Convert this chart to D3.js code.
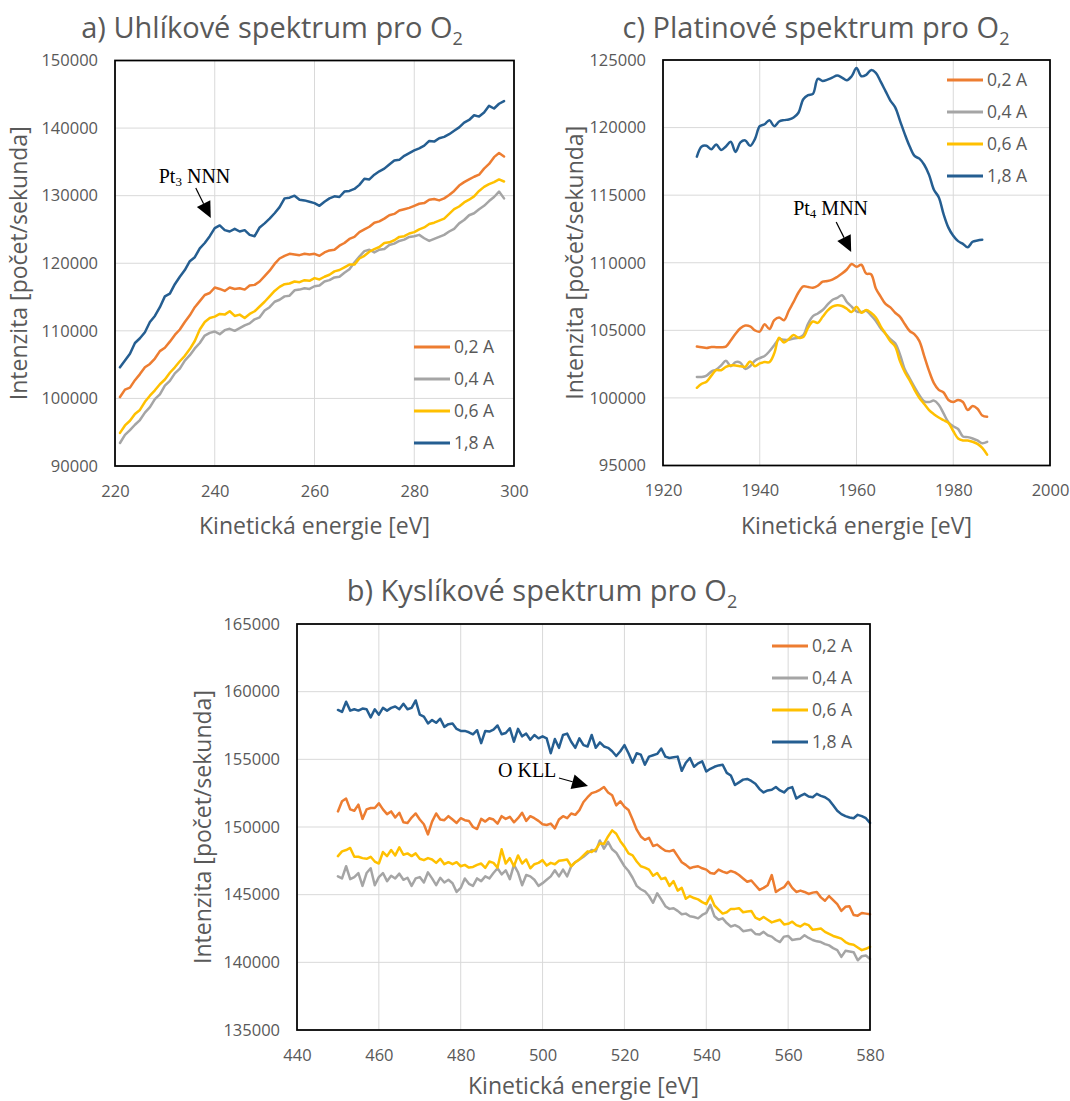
<!DOCTYPE html>
<html>
<head>
  <meta charset="utf-8">
  <title>Spektra pro O2</title>
  <style>
  body { margin: 0; background: #fff; }
  svg text { font-family: "Open Sans", sans-serif; fill: #595959; }
  svg text.annot { font-family: "Liberation Serif", "Times New Roman", serif; fill: #000; }
  </style>
</head>
<body>
<script src="https://cdnjs.cloudflare.com/ajax/libs/d3/7.8.5/d3.min.js"></script>
<script>
// legend entries, same in all three panels
var seriesNames = ["0,2 A", "0,4 A", "0,6 A", "1,8 A"];
var seriesColors = ["#ed7d31", "#a5a5a5", "#ffc000", "#255e91"];

// a) carbon spectrum, 221..298 eV, 1 eV step
var carbonStart = 221;
var carbonTicksX = [220, 240, 260, 280, 300];
var carbonTicksY = [90000, 100000, 110000, 120000, 130000, 140000, 150000];
var carbon02 = [100200,101300,101600,102700,103600,104600,105100,105900,107000,107500,
  108400,109400,110200,111300,112300,113500,114400,115300,115600,116400,
  116200,115900,116400,116200,116300,116100,116700,116800,117300,118100,
  118900,119900,120700,121100,121400,121300,121200,121400,121300,121400,
  121100,121600,121900,122000,122600,123000,123600,123900,124600,125000,
  125400,126000,126200,126600,127100,127300,127800,128000,128200,128500,
  128800,128900,129400,129500,129300,129600,130100,130700,131500,132000,
  132400,132800,133100,134000,134700,135700,136300,135800];
var carbon04 = [93400,94600,95300,96100,96800,97900,98700,99900,100600,101900,
  102600,103700,104400,105600,106400,107400,108200,109300,109700,109900,
  109500,110100,110300,110000,110400,110800,111100,111700,112000,113000,
  113500,114300,114600,115100,115200,116000,116100,116300,116200,116600,
  116700,117300,117500,117900,118000,118600,119100,120100,121000,121800,
  122000,121600,122000,122100,122700,122900,123300,123500,123900,124000,
  124200,123700,123300,123600,123900,124200,124700,125100,125900,126400,
  127100,127400,128000,128500,129200,129800,130600,129600];
var carbon06 = [94900,96000,96700,97700,98300,99500,100400,101200,102100,102800,
  103800,104600,105500,106300,107300,108500,110200,111300,111900,112100,
  112500,112400,112900,112200,112400,111900,112500,112900,113600,114300,
  115100,115900,116500,116900,117000,117300,117200,117500,117400,117800,
  117600,118000,118300,118800,119000,119400,119800,119800,120700,121100,
  121700,122100,122400,123000,123100,123400,123900,124000,124400,124600,
  125000,125300,125800,126000,126300,126600,127300,128000,128400,129000,
  129400,129900,130700,131300,131700,132000,132400,132100];
var carbon18 = [104600,105600,106600,108200,108900,109800,111300,112200,113500,115100,
  115500,116900,118000,119000,120300,120900,122200,123000,124000,125200,
  125600,124900,124700,125100,124700,124900,124200,124000,125300,125900,
  126600,127400,128300,129600,129700,130000,129400,129300,129100,128900,
  128500,129100,129600,129900,129800,130600,130700,131000,131600,132500,
  132400,133100,133600,134000,134600,135200,135300,135900,136300,136700,
  137000,137400,138100,138000,138500,138700,139100,139600,140100,140800,
  141200,141900,141700,142300,143300,142900,143600,144000];

// b) oxygen spectrum, 450..580 eV, 1 eV step
var oxygenStart = 450;
var oxygenTicksX = [440, 460, 480, 500, 520, 540, 560, 580];
var oxygenTicksY = [135000, 140000, 145000, 150000, 155000, 160000, 165000];
var oxygen02 = [151150,151900,152100,151300,151200,151650,150600,151300,151400,151400,
  151750,151300,150950,151150,150700,151050,150350,150300,150700,151000,
  150550,150200,149450,150400,151000,150550,150500,150800,150550,150300,
  150650,150500,150450,150000,149850,150600,150400,150650,150550,150250,
  150800,150600,150750,150350,150650,151050,150450,150800,150650,150450,
  150200,150150,150250,149900,150550,150800,150650,151000,150900,151250,
  151850,152200,152500,152600,152750,152950,152550,152350,151600,151900,
  151500,151250,150550,149800,149300,149050,149200,148600,148700,148450,
  148250,148200,148300,147850,147400,147200,146950,147050,147100,146950,
  146850,146600,146550,146850,146700,146600,146750,146650,146450,146200,
  145950,146050,145700,145350,145500,145700,146450,145200,145400,145550,
  145950,145500,145200,145300,145200,145050,145150,145200,144800,144550,
  144900,144600,144300,143800,144100,144150,143500,143450,143650,143600,
  143550];
var oxygen04 = [146350,146200,147100,146150,146300,146600,145650,146600,146950,145700,
  146300,146600,146000,146400,146200,146550,146100,146250,145650,146200,
  146300,145900,146650,146200,145700,146250,145900,146100,145850,145200,
  145500,146200,145800,145650,146200,146000,146350,146200,146600,146950,
  146500,146800,146150,147200,146650,145700,146450,146350,146100,145650,
  145850,146100,146350,146800,146350,146850,146350,147100,147400,147600,
  147800,148050,148300,148200,149000,148400,148900,148350,148100,147600,
  147100,146750,146250,145650,145400,145250,144900,144400,145100,144650,
  144150,143950,144000,143800,143550,143600,143400,143350,143250,143500,
  143650,144250,143400,143150,143250,142900,142650,142750,142600,142300,
  142350,142400,142100,142050,142250,142000,141900,141650,141500,141900,
  141950,141650,141700,141750,142000,141800,141650,141550,141500,141350,
  141250,141050,140900,140400,140850,140800,140750,140150,140450,140500,
  140250];
var oxygen06 = [147850,148200,148300,148450,147800,147800,147700,147650,147800,147450,
  147300,148150,147850,148300,147900,148500,147950,148050,147850,148050,
  147650,147550,147700,147600,147350,147650,147250,147400,147250,147400,
  147100,147200,147000,147050,147200,147300,146980,147450,147350,147000,
  148350,147300,147700,147100,147900,147300,147600,146950,147250,147350,
  147550,147150,147350,147250,147500,147550,147600,147100,147400,147600,
  147900,148200,148150,148350,148800,148750,149300,149750,149500,148950,
  148550,148050,147900,147450,147100,147000,146850,146400,146600,146150,
  146250,145650,146000,145300,145500,144700,144900,144750,144650,144450,
  144300,144900,144200,143900,143600,143700,143950,143950,144000,143700,
  143750,143800,143300,143150,143350,143150,142950,143050,143150,142800,
  142850,143000,142750,142650,142850,142750,142400,142450,142500,142250,
  142100,141950,141850,141750,141500,141350,141300,141100,140900,141000,
  141150];
var oxygen18 = [158650,158500,159260,158600,158700,158600,158750,158700,158100,158700,
  158300,158800,158600,158800,158900,158700,159100,158700,158800,159350,
  158300,158150,157650,157900,157700,158000,157400,157600,157650,157250,
  157100,157100,157000,156850,157150,156200,157100,157050,157200,157500,
  156850,156950,157300,156300,157250,156700,156900,156450,156800,156550,
  156700,156550,155450,156500,155850,156800,156900,156300,155850,156550,
  156050,155950,156800,155850,156250,155950,155850,155600,155250,155600,
  156050,155450,154750,155450,155350,154600,155200,155300,155400,155800,
  155200,155100,155150,155200,154150,154750,155100,154450,154700,154850,
  154100,154300,154450,154550,154600,154000,153800,153100,153300,153500,
  153550,153400,153200,152800,152550,152700,152750,152950,152700,152550,
  152850,152950,152100,152300,152450,152250,152200,152450,152300,152200,
  152000,151600,151200,150950,150800,150700,150650,150900,150800,150650,
  150300];

// c) platinum spectrum, 1927..1987 eV, 1 eV step (1,8 A ends at 1986)
var platinumStart = 1927;
var platinumTicksX = [1920, 1940, 1960, 1980, 2000];
var platinumTicksY = [95000, 100000, 105000, 110000, 115000, 120000, 125000];
var platinum02 = [103800,103750,103700,103770,103750,103750,103800,104250,104750,105150,
  105350,105300,105000,104900,105450,105100,105750,105950,105750,106450,
  107100,107800,108250,108200,108150,108300,108600,108650,108750,108950,
  109200,109500,109900,109700,109850,109200,109150,108100,107500,106950,
  106700,106300,106000,105450,104950,104700,104200,103100,102000,101100,
  100600,100400,99850,99700,99850,99700,99100,99400,99200,98700,
  98600];
var platinum04 = [101550,101550,101650,101950,102100,102400,102750,102350,102650,102600,
  102150,102350,102750,102950,103100,103450,103900,104350,104300,104300,
  104400,104450,104650,105500,106050,106250,106500,106900,107250,107400,
  107600,107100,106750,106400,106350,106450,106100,105700,105150,104750,
  104350,104050,103200,102100,101450,100800,100200,99750,99700,99800,
  99500,98850,98200,97900,97700,97150,97100,97000,96850,96650,
  96750];
var platinum06 = [100750,101050,101200,101650,102050,102050,102300,102400,102400,102350,
  102300,102700,102350,102550,102650,102650,103300,104450,104100,104350,
  104650,104450,104500,105200,105650,105550,106000,106450,106750,106850,
  106800,106600,106350,106750,106300,106500,106300,105950,105300,104750,
  104200,103800,102700,101900,101300,100600,100000,99550,99100,98800,
  98550,98350,98150,97550,97000,96850,96850,96750,96600,96300,
  95800];
var platinum18 = [117850,118600,118650,118400,118750,118350,118600,118950,118200,118900,
  119050,118650,119150,120100,120250,120550,120100,120450,120550,120600,
  120750,121100,122100,122400,122500,123600,123450,123550,123700,123850,
  123700,123500,123800,124400,123800,123900,124250,124050,123400,122700,
  122000,121500,120500,119500,118600,117900,117700,117250,116500,115400,
  114850,113600,112600,112000,111600,111400,111150,111550,111650,111700];

var svg = d3.select("body").append("svg")
    .attr("width", 1070)
    .attr("height", 1101);

// one panel = plot frame + grid + lines + labels
function drawPanel(p) {
  var x = d3.scaleLinear().domain([p.xTicks[0], p.xTicks[p.xTicks.length - 1]]).range([p.left, p.right]);
  var y = d3.scaleLinear().domain([p.yTicks[0], p.yTicks[p.yTicks.length - 1]]).range([p.bottom, p.top]);
  var g = svg.append("g");

  // gridlines
  g.append("g").selectAll("line")
      .data(p.xTicks)
    .enter().append("line")
      .attr("x1", function(d) { return x(d); })
      .attr("x2", function(d) { return x(d); })
      .attr("y1", p.top)
      .attr("y2", p.bottom)
      .attr("stroke", "#d9d9d9");
  g.append("g").selectAll("line")
      .data(p.yTicks)
    .enter().append("line")
      .attr("x1", p.left)
      .attr("x2", p.right)
      .attr("y1", function(d) { return y(d); })
      .attr("y2", function(d) { return y(d); })
      .attr("stroke", "#d9d9d9");

  // spectra
  var line = d3.line()
      .x(function(d, i) { return x(p.start + i); })
      .y(function(d) { return y(d); })
      .curve(p.curve);
  g.append("g").selectAll("path")
      .data(p.series)
    .enter().append("path")
      .attr("d", line)
      .attr("fill", "none")
      .attr("stroke", function(d, i) { return seriesColors[i]; })
      .attr("stroke-width", 2.5)
      .attr("stroke-linejoin", "round")
      .attr("stroke-linecap", "round");

  // plot frame
  g.append("rect")
      .attr("x", p.left)
      .attr("y", p.top)
      .attr("width", p.right - p.left)
      .attr("height", p.bottom - p.top)
      .attr("fill", "none")
      .attr("stroke", "#000")
      .attr("stroke-width", 1.75);

  // axes (labels only)
  var ay = g.append("g")
      .attr("transform", "translate(" + (p.left - 17) + ",0)")
      .call(d3.axisLeft(y).tickValues(p.yTicks).tickSize(0).tickPadding(0).tickFormat(d3.format("d")));
  ay.select(".domain").remove();
  ay.attr("font-size", 16.5);

  var ax = g.append("g")
      .attr("transform", "translate(0," + (p.bottom + 19) + ")")
      .call(d3.axisBottom(x).tickValues(p.xTicks).tickSize(0).tickPadding(0).tickFormat(d3.format("d")));
  ax.select(".domain").remove();
  ax.attr("font-size", 16.5);

  // axis titles
  g.append("text")
      .attr("x", (p.left + p.right) / 2)
      .attr("y", p.xTitleY)
      .attr("text-anchor", "middle")
      .attr("font-size", 23)
      .text("Kinetická energie [eV]");
  g.append("text")
      .attr("transform", "translate(" + p.yTitleX + "," + ((p.top + p.bottom) / 2) + ") rotate(-90)")
      .attr("text-anchor", "middle")
      .attr("font-size", 23)
      .text("Intenzita [počet/sekunda]");

  // chart title with subscript 2
  var t = g.append("text")
      .attr("x", p.titleX)
      .attr("y", p.titleY)
      .attr("text-anchor", "middle")
      .attr("font-size", 29);
  t.append("tspan").text(p.title);
  t.append("tspan").attr("font-size", 18).attr("dy", 7).text("2");

  // legend
  var lg = g.append("g").selectAll("g")
      .data(seriesNames)
    .enter().append("g")
      .attr("transform", function(d, i) { return "translate(" + p.legendX + "," + (p.legendY + i * 32) + ")"; });
  lg.append("line")
      .attr("x1", 0)
      .attr("x2", 36)
      .attr("stroke", function(d, i) { return seriesColors[i]; })
      .attr("stroke-width", 3);
  lg.append("text")
      .attr("x", 40)
      .attr("dy", "0.36em")
      .attr("font-size", 17.5)
      .text(function(d) { return d; });

  // peak annotation: arrow pointing at (e, v)
  var a = p.annot;
  var tx = x(a.e), ty = y(a.v);
  var sx = tx + a.sdx, sy = ty + a.sdy;
  var len = Math.sqrt(a.sdx * a.sdx + a.sdy * a.sdy);
  var ux = -a.sdx / len, uy = -a.sdy / len;
  var bx = tx - ux * 16, by = ty - uy * 16;
  g.append("line")
      .attr("x1", sx).attr("y1", sy)
      .attr("x2", bx).attr("y2", by)
      .attr("stroke", "#000")
      .attr("stroke-width", 1.2);
  g.append("path")
      .attr("d", "M" + tx + "," + ty +
                 "L" + (bx - uy * 7.5) + "," + (by + ux * 7.5) +
                 "L" + (bx + uy * 7.5) + "," + (by - ux * 7.5) + "Z")
      .attr("fill", "#000");
  var at = g.append("text")
      .attr("class", "annot")
      .attr("x", tx + a.tdx)
      .attr("y", ty + a.tdy)
      .attr("font-size", 20);
  at.append("tspan").text(a.label);
  if (a.sub) {
    at.append("tspan").attr("font-size", 13).attr("dy", 3).text(a.sub);
    at.append("tspan").attr("dy", -3).text(a.rest);
  }
}

drawPanel({
  title: "a) Uhlíkové spektrum pro O", titleX: 272, titleY: 38,
  left: 115, right: 514, top: 60.5, bottom: 466,
  xTicks: carbonTicksX, yTicks: carbonTicksY,
  start: carbonStart, series: [carbon02, carbon04, carbon06, carbon18],
  curve: d3.curveLinear,
  xTitleY: 534, yTitleX: 27,
  legendX: 414, legendY: 347,
  annot: { label: "Pt", sub: "3", rest: " NNN", e: 239.2, v: 126700, sdx: -15, sdy: -30, tdx: -52, tdy: -35 }
});

drawPanel({
  title: "c) Platinové spektrum pro O", titleX: 816, titleY: 38,
  left: 663, right: 1050, top: 60, bottom: 465.5,
  xTicks: platinumTicksX, yTicks: platinumTicksY,
  start: platinumStart, series: [platinum02, platinum04, platinum06, platinum18],
  curve: d3.curveCatmullRom.alpha(0.5),
  xTitleY: 534, yTitleX: 583,
  legendX: 947, legendY: 80,
  annot: { label: "Pt", sub: "4", rest: " MNN", e: 1958.9, v: 110800, sdx: -15, sdy: -30, tdx: -58, tdy: -37 }
});

drawPanel({
  title: "b) Kyslíkové spektrum pro O", titleX: 542, titleY: 601,
  left: 297, right: 870, top: 624, bottom: 1030,
  xTicks: oxygenTicksX, yTicks: oxygenTicksY,
  start: oxygenStart, series: [oxygen02, oxygen04, oxygen06, oxygen18],
  curve: d3.curveLinear,
  xTitleY: 1094, yTitleX: 211,
  legendX: 772, legendY: 646,
  annot: { label: "O KLL", e: 511.1, v: 153030, sdx: -29, sdy: -8, tdx: -90, tdy: -9 }
});
</script>
</body>
</html>
